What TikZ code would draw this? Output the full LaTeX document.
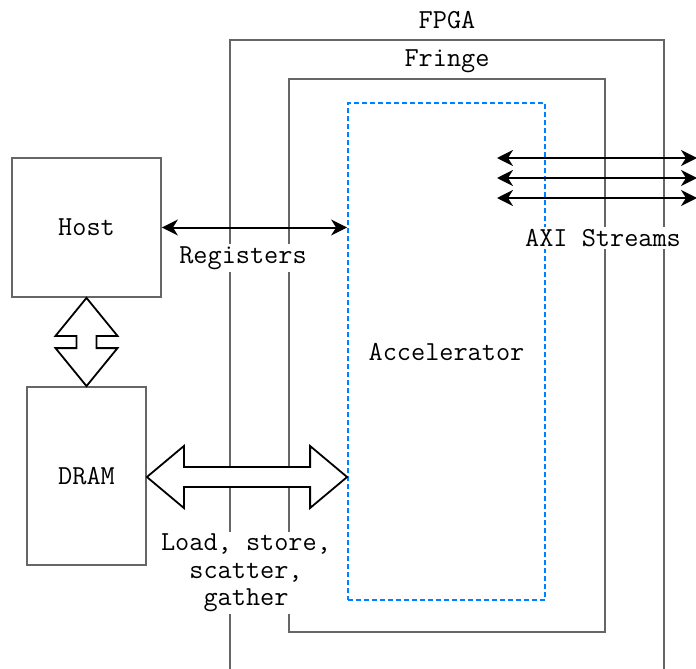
\documentclass[tikz,border=0pt]{standalone}
\usepackage{fontspec}
\usetikzlibrary{arrows.meta,calc}
\definecolor{frame}{HTML}{666666}
\definecolor{accblue}{HTML}{007FFF}
\begin{document}
\begin{tikzpicture}[x=1pt,y=-1pt,
  font=\ttfamily\fontsize{27.5}{27.5}\selectfont,
  box/.style={draw=frame,line width=1.8pt,minimum width=#1,inner sep=0pt},
  wall/.style={draw=frame,line width=1.8pt},
  accbox/.style={draw=accblue,line width=1.8pt,dash pattern=on 5pt off 3pt,inner sep=0pt},
  link/.style={draw=black,line width=2pt,{Stealth[length=16pt,width=16pt,inset=5pt]}-{Stealth[length=16pt,width=16pt,inset=5pt]}},
  fat/.style={draw=black,line width=1.8pt,fill=white,line join=miter},
  tag/.style={fill=white,inner sep=2pt,align=center}]
\useasboundingbox (0,0) rectangle (696,669);

% FPGA outline (open at the bottom)
\coordinate (fpgaBL) at (230,680);
\coordinate (fpgaTL) at (230,40);
\coordinate (fpgaTR) at (664,40);
\coordinate (fpgaBR) at (664,680);
\draw[wall] (fpgaBL) -- (fpgaTL) -- (fpgaTR) -- (fpgaBR);
\node (fpgalbl) at (447,20) {FPGA};

% Fringe
\node[box=316pt,minimum height=553pt] (fringe) at (447,355.5) {};
\node (fringelbl) at (447,61) {Fringe};

% Accelerator
\node[accbox,minimum width=197pt,minimum height=497pt] (acc) at (446.5,351.5) {Accelerator};

% Host and DRAM
\node[box=149pt,minimum height=139pt] (host) at (86.5,227.5) {Host};
\node[box=119pt,minimum height=178pt] (dram) at (86.5,476) {DRAM};

% Host <-> DRAM block arrow
\draw[fat] (host.south)
  -- ($(host.south)+(31,38)$) -- ($(host.south)+(10,38)$)
  -- ($(dram.north)+(10,-38)$) -- ($(dram.north)+(31,-38)$)
  -- (dram.north)
  -- ($(dram.north)+(-31,-38)$) -- ($(dram.north)+(-10,-38)$)
  -- ($(host.south)+(-10,38)$) -- ($(host.south)+(-31,38)$) -- cycle;

% DRAM <-> Accelerator block arrow
\coordinate (memL) at (dram.east |- 0,477);
\coordinate (memR) at (acc.west |- 0,477);
\draw[fat] (memL)
  -- ($(memL)+(37,-31)$) -- ($(memL)+(37,-10)$)
  -- ($(memR)+(-37,-10)$) -- ($(memR)+(-37,-31)$)
  -- (memR)
  -- ($(memR)+(-37,31)$) -- ($(memR)+(-37,10)$)
  -- ($(memL)+(37,10)$) -- ($(memL)+(37,31)$) -- cycle;
\node[tag] (memlbl) at (246,573) {Load, store,\\scatter,\\gather};

% Register interface
\draw[link] (host.east) -- (acc.west |- host.east);
\node[tag] (reglbl) at (243,258) {Registers};

% AXI streams
\foreach \y [count=\i] in {158,178,198} {
  \coordinate (axiL\i) at (497,\y);
  \coordinate (axiR\i) at (697,\y);
  \draw[link] (axiL\i) -- (axiR\i);
}
\node[tag] (axilbl) at (603,238) {AXI Streams};
\end{tikzpicture}
\end{document}
